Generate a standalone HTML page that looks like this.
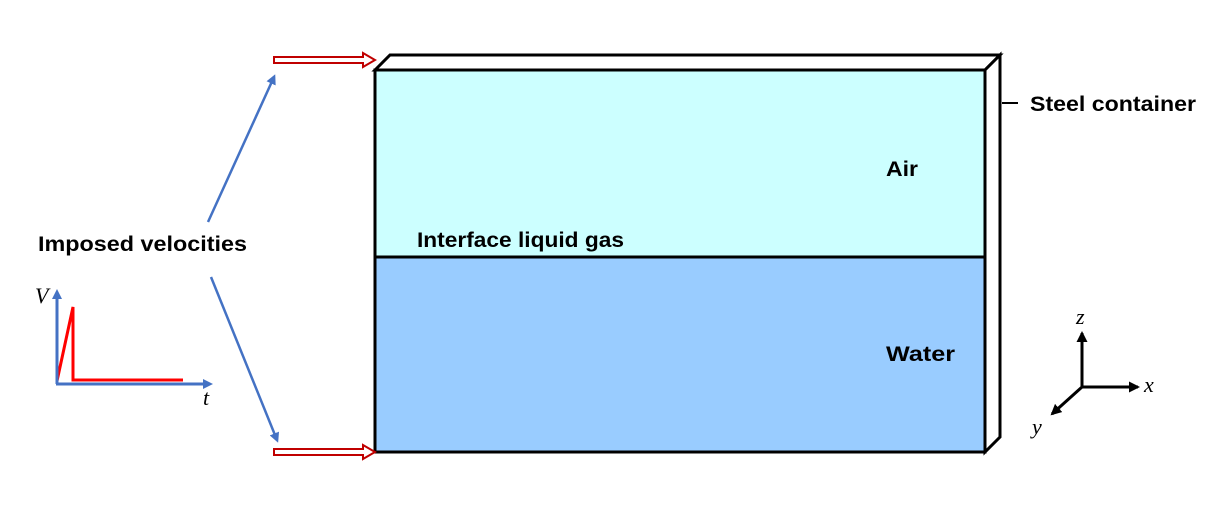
<!DOCTYPE html>
<html><head><meta charset="utf-8"><style>
html,body{margin:0;padding:0;background:#fff;width:1221px;height:514px;overflow:hidden}
svg text{font-family:"Liberation Sans",sans-serif;font-weight:bold;font-size:21px;fill:#000}
.it{font-family:"Liberation Serif",serif;font-style:italic;font-weight:normal;font-size:22px}
</style></head><body>
<svg width="1221" height="514" viewBox="0 0 1221 514" xmlns="http://www.w3.org/2000/svg">
<defs>
<marker id="ba" markerWidth="10" markerHeight="10" refX="7" refY="5" orient="auto" markerUnits="userSpaceOnUse"><path d="M0,0 L10,5 L0,10 z" fill="#4472c4"/></marker>
<marker id="ka" markerWidth="11" markerHeight="11" refX="9" refY="5.5" orient="auto" markerUnits="userSpaceOnUse"><path d="M0,0 L11,5.5 L0,11 z" fill="#000"/></marker>
</defs>
<polygon points="375,70 390,55 1000,55 985,70" fill="#fff" stroke="#000" stroke-width="3"/>
<polygon points="985,70 1000,55 1000,437 985,452" fill="#fff" stroke="#000" stroke-width="3"/>
<rect x="375" y="70" width="610" height="187" fill="#ccffff"/>
<rect x="375" y="257" width="610" height="195" fill="#99ccff"/>
<rect x="375" y="70" width="610" height="382" fill="none" stroke="#000" stroke-width="3"/>
<line x1="375" y1="257" x2="985" y2="257" stroke="#000" stroke-width="3"/>
<line x1="1002" y1="103" x2="1018" y2="103" stroke="#000" stroke-width="2"/>
<text x="1030" y="111" textLength="166" lengthAdjust="spacingAndGlyphs">Steel container</text>
<text x="886" y="176" textLength="32" lengthAdjust="spacingAndGlyphs">Air</text>
<text x="417" y="247" textLength="207" lengthAdjust="spacingAndGlyphs">Interface liquid gas</text>
<text x="886" y="361" textLength="69" lengthAdjust="spacingAndGlyphs">Water</text>
<text x="38" y="251" textLength="209" lengthAdjust="spacingAndGlyphs">Imposed velocities</text>
<g fill="none" stroke="#c00000" stroke-width="2">
<path d="M274,57 H363 V53 L375,60 L363,67 V63 H274 Z" fill="#fff"/>
<path d="M274,449 H363 V445 L375,452 L363,459 V455 H274 Z" fill="#fff"/>
</g>
<line x1="208" y1="222" x2="274" y2="77" stroke="#4472c4" stroke-width="2.5" marker-end="url(#ba)"/>
<line x1="211" y1="277" x2="277" y2="440" stroke="#4472c4" stroke-width="2.5" marker-end="url(#ba)"/>
<polyline points="57,381 73,307 73,380 183,380" fill="none" stroke="#ff0000" stroke-width="3"/>
<line x1="57" y1="384" x2="57" y2="292" stroke="#4472c4" stroke-width="3" marker-end="url(#ba)"/>
<line x1="56" y1="384" x2="210" y2="384" stroke="#4472c4" stroke-width="3" marker-end="url(#ba)"/>
<text class="it" x="35" y="303">V</text>
<text class="it" x="203" y="405">t</text>
<line x1="1082" y1="387" x2="1082" y2="333" stroke="#000" stroke-width="3" marker-end="url(#ka)"/>
<line x1="1081" y1="387" x2="1138" y2="387" stroke="#000" stroke-width="3" marker-end="url(#ka)"/>
<line x1="1082" y1="387" x2="1052" y2="414" stroke="#000" stroke-width="3" marker-end="url(#ka)"/>
<text class="it" x="1076" y="324">z</text>
<text class="it" x="1144" y="392">x</text>
<text class="it" x="1032" y="434">y</text>
</svg>
</body></html>
